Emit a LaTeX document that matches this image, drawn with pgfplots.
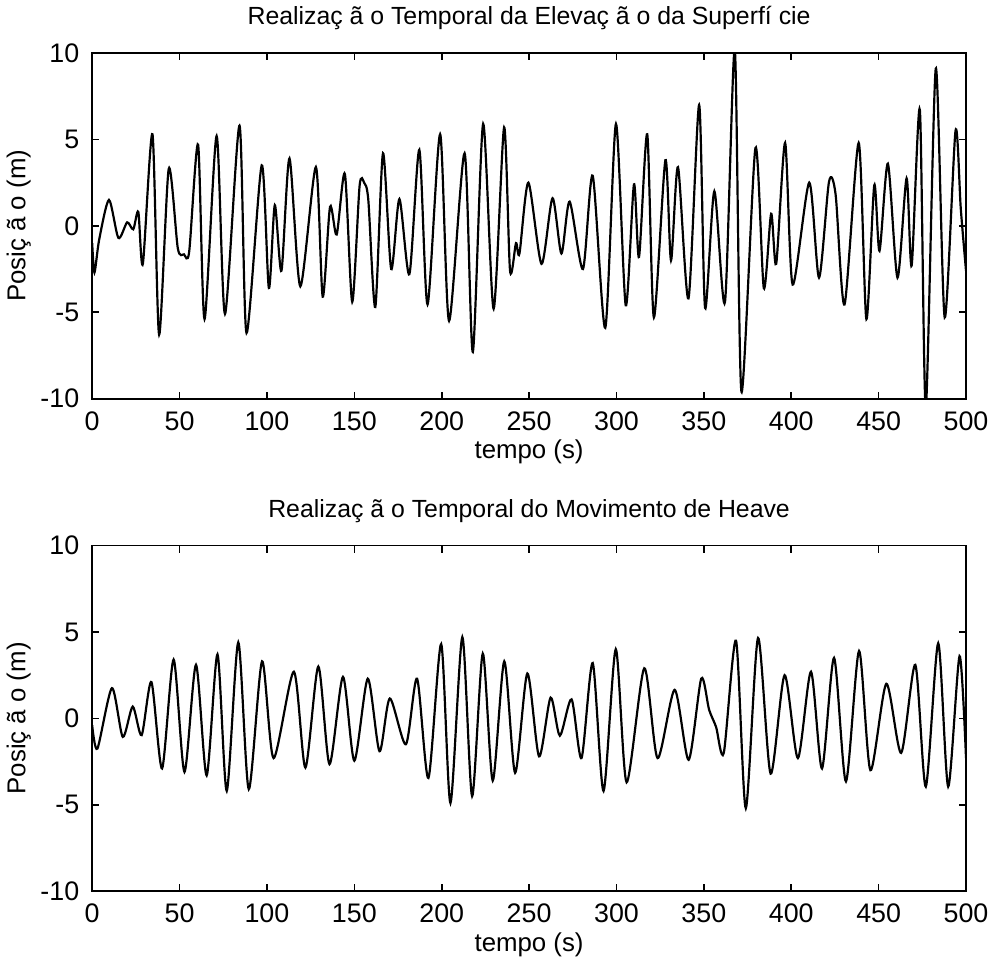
\documentclass[border=0pt]{standalone}
\usepackage{fontspec}
\setmainfont{Liberation Sans}
\usepackage{pgfplots}
\pgfplotsset{compat=1.18}
\pgfplotsset{
  mystyle/.style={
    width=440pt, height=174pt, scale only axis,
    xmin=0, xmax=500, ymin=-10, ymax=10,
    xtick={0,50,100,150,200,250,300,350,400,450,500},
    xticklabels={0,50,100,150,200,250,300,350,400,450,500},
    ytick={-10,-5,0,5,10},
    yticklabels={-10,-5,0,5,10},
    tick align=inside, tick pos=both,
    xticklabel pos=left, yticklabel pos=left,
    major tick length=3.5pt,
    axis line style={line width=0.9pt},
    every tick/.style={black, line width=0.8pt},
    tick label style={font=\fontsize{13.5}{15}\selectfont},
    xticklabel style={yshift=-3pt},
    yticklabel style={xshift=-3pt},
    label style={font=\fontsize{13}{15}\selectfont},
    title style={font=\fontsize{12.5}{14}\selectfont, yshift=2pt},
    xlabel={tempo (s)},
    ylabel={Posiç ã o (m)},
    xlabel style={yshift=2pt},
    ylabel style={yshift=-2pt},
    clip=true,
  }
}
\begin{document}
\begin{tikzpicture}
\begin{axis}[mystyle, at={(0,0)}, anchor=south west,
  title={Realizaç ã o Temporal da Elevaç ã o da Superfí cie}]
\addplot[black, line width=1.1pt, smooth, tension=0.45] coordinates {
(0,-1.0) (1.3,-2.7) (4,-0.8) (9.6,1.5) (15,-0.7) (20,0.2) (23.5,-0.2) (26.4,0.8)
(29,-2.2) (34.5,5.3) (38.3,-6.3) (43.8,3.3) (49,-1.3) (52.5,-1.65) (55.5,-1.5)
(60.6,4.7) (64.3,-5.4) (71.2,5.2) (76,-5.1) (84.3,5.8) (88.3,-6.2) (97,3.5)
(101.1,-3.6) (104.5,1.2) (108.3,-2.6) (112.9,3.9) (119.1,-3.5) (128.0,3.4)
(131.9,-4.1) (136.1,1.1) (139.9,-0.5) (144.6,3.0) (148.8,-4.4) (153,2.3)
(155.6,2.5) (158,1.5) (162.0,-4.7) (166.4,4.2) (171.1,-2.5) (175.8,1.55)
(181.5,-2.8) (187.2,4.4) (191.9,-4.55) (199.1,5.3) (204.2,-5.5) (213.1,4.2)
(217.8,-7.3) (223.7,5.9) (229.7,-4.8) (235.7,5.7) (239.1,-2.6) (242.5,-1.0)
(244.5,-1.6) (249.6,2.5) (257.1,-2.2) (263.4,1.6) (268.5,-1.6) (273.2,1.4)
(280.8,-2.5) (286.4,2.9) (293.6,-5.9) (299.7,5.9) (305.3,-4.6) (310.0,2.4)
(312.9,-1.8) (317.6,5.3) (321.4,-5.3) (328.0,3.8) (331.2,-2.0) (335.2,3.4)
(341.2,-4.2) (347.3,7.0) (350.7,-4.75) (356.0,2.0) (362.1,-4.4) (367.7,10.2)
(371.5,-9.6) (379.5,4.5) (384.3,-3.6) (388.5,0.7) (391.4,-2.2) (396.5,4.8)
(400.8,-3.4) (410.3,2.5) (415.9,-3.0) (421.6,2.55) (425.4,1.8) (430.5,-4.55)
(438.6,4.8) (443.0,-5.4) (447.5,2.35) (450.5,-1.45) (455.3,3.6) (460.8,-3.0)
(466.0,2.75) (468.9,-2.3) (473.6,6.7) (477.0,-10.5) (482.7,9.1) (487.8,-5.3)
(494.0,5.5) (497,1.0) (500,-2.6)
};
\end{axis}
\begin{axis}[mystyle, at={(0,-74pt)}, anchor=north west,
  title={Realizaç ã o Temporal do Movimento de Heave}]
\addplot[black, line width=1.1pt, smooth, tension=0.45] coordinates {
(0,-0.4) (3,-1.75) (11.3,1.75) (17.5,-1.07) (23.2,0.68) (28.3,-0.97) (33.9,2.1)
(40,-2.9) (46.6,3.4) (52.8,-3.1) (59.4,3.1) (65.5,-3.3) (71.7,3.7) (77,-4.2)
(83.6,4.4) (89.6,-4.1) (97.2,3.3) (103.8,-2.3) (115.4,2.7) (122,-2.85)
(129.4,3.0) (135.8,-2.65) (143.5,2.4) (150,-2.45) (157.7,2.3) (164.4,-1.9)
(170.3,1.15) (179.5,-1.5) (185.9,2.3) (192.4,-3.45) (199.7,4.3) (205,-4.9)
(211.8,4.7) (217.4,-4.5) (223.5,3.75) (229.2,-3.6) (235.8,3.3) (242,-3.15)
(249,2.6) (255.7,-2.2) (262.3,1.2) (267.6,-1.0) (274.3,1.1) (280,-2.3)
(286.4,3.2) (292.6,-4.2) (299.6,4.0) (305.8,-3.7) (315.9,2.9) (323.5,-2.3)
(333.3,1.65) (341.3,-2.4) (348.5,2.3) (353,0.5) (357,-0.5) (361.4,-2.0)
(368.4,4.5) (374,-5.2) (381,4.65) (388.2,-3.2) (396.2,2.5) (403.8,-2.3)
(411.3,2.7) (417.6,-2.9) (424.5,3.5) (431.3,-3.65) (438.8,3.9) (445.3,-3.0)
(454.4,2.0) (462.9,-2.0) (471,3.1) (477,-3.95) (484.1,4.35) (489.8,-3.95)
(496.3,3.6) (500,-2.3)
};
\end{axis}
\end{tikzpicture}
\end{document}
